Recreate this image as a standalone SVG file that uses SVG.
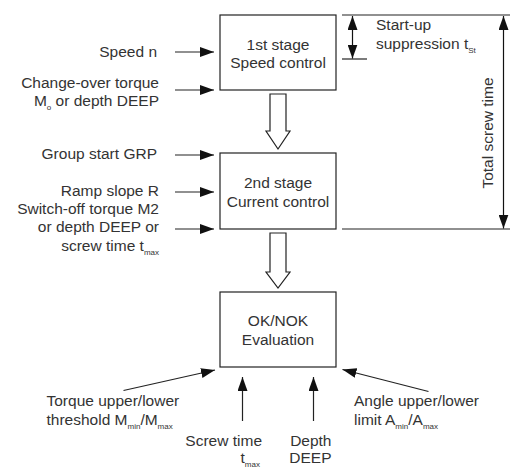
<svg xmlns="http://www.w3.org/2000/svg" width="518" height="470" viewBox="0 0 518 470">
<defs>
<marker id="ah" viewBox="0 0 14 10" refX="14" refY="5" markerWidth="14" markerHeight="10" markerUnits="userSpaceOnUse" orient="auto-start-reverse">
<path d="M0,0 L14,5 L0,10 z" fill="#111"/>
</marker>
<style>
text{font-family:"Liberation Sans",Arial,sans-serif;font-size:15.5px;fill:#333}
.c{text-anchor:middle}
.e{text-anchor:end}
.s{font-size:8px}
.box{fill:#fff;stroke:#222;stroke-width:1.2}
.ln{stroke:#222;stroke-width:1.2;fill:none}
.ar{stroke:#222;stroke-width:1.2;fill:none;marker-end:url(#ah)}
.dar{stroke:#111;stroke-width:1.2;fill:none;marker-start:url(#ah);marker-end:url(#ah)}
.hol{fill:#fff;stroke:#222;stroke-width:1.2}
</style>
</defs>
<rect width="518" height="470" fill="#fff"/>

<g id="stage1">
<rect class="box" x="220" y="15" width="116" height="75"/>
<text class="c" x="278" y="50">1st stage</text>
<text class="c" x="278" y="68">Speed control</text>
</g>
<g id="stage2">
<rect class="box" x="220" y="153" width="116" height="76"/>
<text class="c" x="278" y="188">2nd stage</text>
<text class="c" x="278" y="206.5">Current control</text>
</g>
<g id="evaluation">
<rect class="box" x="220" y="292" width="116" height="75"/>
<text class="c" x="278" y="326">OK/NOK</text>
<text class="c" x="278" y="345">Evaluation</text>
</g>

<g id="labels">
<text class="e" x="157" y="57">Speed n</text>
<text class="e" x="159" y="88">Change-over torque</text>
<text class="e" x="159" y="106">M<tspan class="s" dy="4">o</tspan><tspan dy="-4"> or depth DEEP</tspan></text>
<text class="e" x="157" y="159">Group start GRP</text>
<text class="e" x="159" y="196">Ramp slope R</text>
<text class="e" x="159" y="214">Switch-off torque M2</text>
<text class="e" x="159" y="232">or depth DEEP or</text>
<text class="e" x="159" y="251">screw time t<tspan class="s" dy="4">max</tspan></text>
<text x="376" y="30">Start-up</text>
<text x="376" y="48.5">suppression t<tspan class="s" dy="4">St</tspan></text>
<text class="c" transform="translate(492.5,133) rotate(-90)">Total screw time</text>
<text x="46.5" y="406">Torque upper/lower</text>
<text x="46.5" y="425">threshold M<tspan class="s" dy="4">min</tspan><tspan dy="-4">/M</tspan><tspan class="s" dy="4">max</tspan></text>
<text class="e" x="262" y="446">Screw time</text>
<text x="240.5" y="463">t<tspan class="s" dy="4">max</tspan></text>
<text class="e" x="331.5" y="446">Depth</text>
<text class="e" x="331.5" y="463">DEEP</text>
<text x="354" y="406">Angle upper/lower</text>
<text x="354" y="425">limit A<tspan class="s" dy="4">min</tspan><tspan dy="-4">/A</tspan><tspan class="s" dy="4">max</tspan></text>
</g>

<g id="connectors">
<line class="ar" x1="175" y1="52" x2="214" y2="52"/>
<line class="ar" x1="175" y1="90" x2="214" y2="90"/>
<line class="ar" x1="175" y1="155" x2="214" y2="155"/>
<line class="ar" x1="175" y1="192" x2="214" y2="192"/>
<line class="ar" x1="175" y1="229" x2="214" y2="229"/>
<polygon class="hol" points="270,94 286,94 286,131 290,131 278,149 266,131 270,131"/>
<polygon class="hol" points="270,233 286,233 286,272 290,272 278,288 266,272 270,272"/>
<line class="ln" x1="342" y1="15" x2="510" y2="15"/>
<line class="ln" x1="342" y1="59" x2="367" y2="59"/>
<line class="ln" x1="342" y1="229" x2="510" y2="229"/>
<line class="dar" x1="352.5" y1="16" x2="352.5" y2="58.5"/>
<line class="dar" x1="503.5" y1="16" x2="503.5" y2="228.5"/>
<line class="ar" x1="123.5" y1="390.5" x2="215" y2="370"/>
<line class="ar" x1="242.5" y1="421" x2="242.5" y2="377"/>
<line class="ar" x1="313.5" y1="421" x2="313.5" y2="377"/>
<line class="ar" x1="428.5" y1="391.5" x2="342.5" y2="369.5"/>
</g>
</svg>
